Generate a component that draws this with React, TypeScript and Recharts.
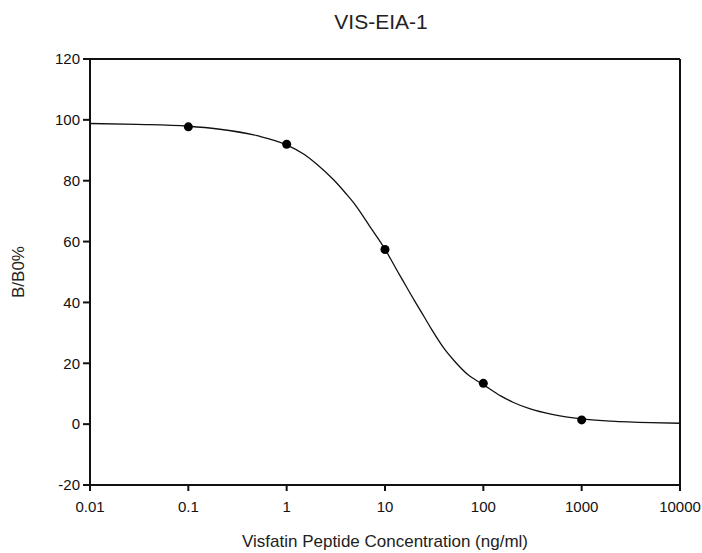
import {
  ComposedChart, Line, Scatter, XAxis, YAxis, ReferenceLine,
} from 'recharts';

// fitted curve
const curveX = [0.01, 0.03, 0.1, 0.2, 0.5, 1, 1.5, 2, 3, 4, 5, 7, 10, 13, 15, 20, 25, 30, 40, 50, 70, 100, 150, 200, 300, 500, 1000, 2000, 5000, 10000];
const curveY = [98.8, 98.5, 97.9, 97.0, 94.8, 91.8, 88.7, 85.6, 80.3, 75.8, 72, 65, 57.5, 51, 47.5, 40.5, 35.3, 31.0, 24.8, 21.0, 16.2, 13.0, 9.3, 7.2, 5.0, 3.2, 1.7, 1.0, 0.5, 0.3];

// measured standards
const conc = [0.1, 1, 10, 100, 1000];
const bb0 = [97.7, 92, 57.4, 13.4, 1.4];

const xTicks = [0.01, 0.1, 1, 10, 100, 1000, 10000];
const yTicks = [-20, 0, 20, 40, 60, 80, 100, 120];

const curve = curveX.map((x, i) => ({ x, y: curveY[i] }));
const points = conc.map((x, i) => ({ x, y: bb0[i] }));

const font = '"Liberation Sans", Arial, sans-serif';
const tickStyle = { fontSize: 15, fill: '#111', fontFamily: font };

export default function App() {
  return (
    <div style={{ position: 'relative', width: 702, height: 553, background: '#fff', fontFamily: font }}>
      <style>{`body{margin:0}`}</style>
      <div style={{ position: 'absolute', left: 0, width: 762, top: 10, textAlign: 'center', fontSize: 21, color: '#222' }}>
        VIS-EIA-1
      </div>
      <ComposedChart
        width={702}
        height={553}
        margin={{ top: 59, right: 22, bottom: 28, left: 0 }}
      >
        <XAxis
          dataKey="x"
          type="number"
          scale="log"
          domain={[0.01, 10000]}
          ticks={xTicks}
          allowDataOverflow
          tickFormatter={(v: number) => String(v)}
          tick={tickStyle}
          tickSize={6}
          tickMargin={10}
          height={40}
          stroke="#111"
          strokeWidth={2}
        />
        <YAxis
          type="number"
          domain={[-20, 120]}
          ticks={yTicks}
          tick={tickStyle}
          tickSize={7}
          tickMargin={3}
          width={90}
          stroke="#111"
          strokeWidth={2}
        />
        <ReferenceLine y={120} stroke="#111" strokeWidth={2} />
        <ReferenceLine x={10000} stroke="#111" strokeWidth={2} />
        <Line
          data={curve}
          dataKey="y"
          type="monotone"
          stroke="#111"
          strokeWidth={1.3}
          dot={false}
          isAnimationActive={false}
        />
        <Scatter
          data={points}
          dataKey="y"
          fill="#000"
          shape={(p: any) => <circle cx={p.cx} cy={p.cy} r={4.5} fill="#000" />}
          isAnimationActive={false}
        />
      </ComposedChart>
      <div style={{ position: 'absolute', left: 0, width: 770, top: 532, textAlign: 'center', fontSize: 17, color: '#222' }}>
        Visfatin Peptide Concentration (ng/ml)
      </div>
      <div
        style={{
          position: 'absolute', left: 19, top: 272, fontSize: 17, color: '#222',
          transform: 'translate(-50%, -50%) rotate(-90deg)', whiteSpace: 'nowrap',
        }}
      >
        B/B0%
      </div>
    </div>
  );
}
